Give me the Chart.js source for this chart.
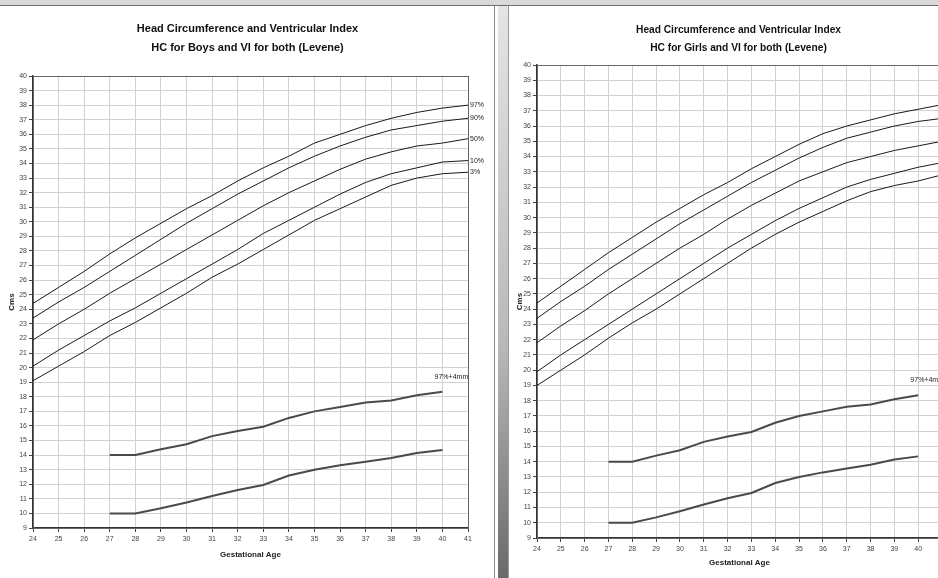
<!DOCTYPE html>
<html>
<head>
<meta charset="utf-8">
<script src="https://cdn.jsdelivr.net/npm/chart.js@4.4.1/dist/chart.umd.min.js"></script>
<style>
  body { margin: 0; width: 938px; height: 578px; overflow: hidden; background: #fff; position: relative; }
  canvas { position: absolute; top: 0; }
  #boysChart { left: 0; }
  #girlsChart { left: 508px; }
  #topbar { position: absolute; left: 0; top: 0; width: 938px; height: 5px; background: #d9d9d9; border-bottom: 1px solid #6e6e6e; z-index: 2; }
  #line { position: absolute; left: 494px; top: 6px; width: 1px; height: 572px; background: #8a8a8a; }
  #sep { position: absolute; left: 498px; top: 6px; width: 10px; height: 572px; background: linear-gradient(#e4e4e4, #b8b8b8 60%, #6a6a6a); }
  #rborder { position: absolute; left: 508px; top: 6px; width: 1px; height: 572px; background: #9a9a9a; }
</style>
</head>
<body>
<canvas id="boysChart" width="495" height="578"></canvas>
<canvas id="girlsChart" width="461" height="578"></canvas>
<div id="topbar"></div>
<div id="line"></div>
<div id="sep"></div>
<div id="rborder"></div>
<script>
// gestational age (weeks)
const weeks = [24, 25, 26, 27, 28, 29, 30, 31, 32, 33, 34, 35, 36, 37, 38, 39, 40, 41];
const viWeeks = [27, 28, 29, 30, 31, 32, 33, 34, 35, 36, 37, 38, 39, 40];

const pctLabels = ['97%', '90%', '50%', '10%', '3%'];

// HC for boys (cm)
const boys97 = [24.4, 25.5, 26.6, 27.8, 28.9, 29.9, 30.9, 31.8, 32.8, 33.7, 34.5, 35.4, 36.0, 36.6, 37.1, 37.5, 37.8, 38.0];
const boys90 = [23.4, 24.5, 25.5, 26.6, 27.7, 28.8, 29.9, 30.9, 31.9, 32.8, 33.7, 34.5, 35.2, 35.8, 36.3, 36.6, 36.9, 37.1];
const boys50 = [21.9, 23.0, 24.0, 25.1, 26.1, 27.1, 28.1, 29.1, 30.1, 31.1, 32.0, 32.8, 33.6, 34.3, 34.8, 35.2, 35.4, 35.7];
const boys10 = [20.1, 21.2, 22.2, 23.2, 24.1, 25.1, 26.1, 27.1, 28.1, 29.2, 30.1, 31.0, 31.9, 32.7, 33.3, 33.7, 34.1, 34.2];
const boys3  = [19.1, 20.1, 21.1, 22.2, 23.1, 24.1, 25.1, 26.2, 27.1, 28.1, 29.1, 30.1, 30.9, 31.7, 32.5, 33.0, 33.3, 33.4];

// HC for girls (cm)
const girls97 = [24.4, 25.5, 26.6, 27.7, 28.7, 29.7, 30.6, 31.5, 32.3, 33.2, 34.0, 34.8, 35.5, 36.0, 36.4, 36.8, 37.1, 37.4];
const girls90 = [23.4, 24.5, 25.5, 26.6, 27.6, 28.6, 29.6, 30.5, 31.4, 32.3, 33.1, 33.9, 34.6, 35.2, 35.6, 36.0, 36.3, 36.5];
const girls50 = [21.8, 22.9, 23.9, 25.0, 26.0, 27.0, 28.0, 28.9, 29.9, 30.8, 31.6, 32.4, 33.0, 33.6, 34.0, 34.4, 34.7, 35.0];
const girls10 = [19.9, 21.0, 22.0, 23.0, 24.0, 25.0, 26.0, 27.0, 28.0, 28.9, 29.8, 30.6, 31.3, 32.0, 32.5, 32.9, 33.3, 33.6];
const girls3  = [19.0, 20.0, 21.0, 22.1, 23.1, 24.0, 25.0, 26.0, 27.0, 28.0, 28.9, 29.7, 30.4, 31.1, 31.7, 32.1, 32.4, 32.8];

// ventricular index (both)
const viUpper = [14.0, 14.0, 14.4, 14.75, 15.3, 15.65, 15.95, 16.55, 17.0, 17.3, 17.6, 17.75, 18.1, 18.35];
const viLower = [10.0, 10.0, 10.35, 10.75, 11.2, 11.6, 11.95, 12.6, 13.0, 13.3, 13.55, 13.8, 14.15, 14.35];

const pts = (xs, ys) => xs.map((x, i) => ({ x: x, y: ys[i] }));

// titles, plot frame and end labels
const decor = {
  id: 'decor',
  beforeDatasetsDraw(chart) {
    const { ctx, chartArea: a } = chart;
    ctx.save();
    ctx.strokeStyle = '#666';
    ctx.lineWidth = 1;
    ctx.strokeRect(a.left + 0.5, a.top + 0.5, a.right - a.left, a.bottom - a.top);
    ctx.restore();
  },
  afterDatasetsDraw(chart, args, opts) {
    const { ctx } = chart;
    ctx.save();
    ctx.fillStyle = '#111';
    ctx.textAlign = 'center';
    ctx.textBaseline = 'middle';
    ctx.font = 'bold ' + opts.size + 'px "Liberation Sans", Arial, sans-serif';
    ctx.fillText('Head Circumference and Ventricular Index', chart.width / 2, opts.t1);
    ctx.fillText(opts.sub, chart.width / 2, opts.t2);

    ctx.font = '7px "Liberation Sans", Arial, sans-serif';
    ctx.fillStyle = '#222';
    chart.data.datasets.forEach((ds, i) => {
      if (!ds.endLabel) return;
      const meta = chart.getDatasetMeta(i);
      const p = meta.data[meta.data.length - 1];
      if (ds.endLabel === '97%+4mm') {
        ctx.textAlign = 'center';
        ctx.fillText(ds.endLabel, p.x + 9, p.y - 15);
      } else {
        ctx.textAlign = 'left';
        ctx.fillText(ds.endLabel, p.x + 2, p.y);
      }
    });
    ctx.restore();
  }
};

function makeChart(id, hc, sub, g) {
  const hcSets = hc.map((arr, i) => ({
    data: pts(weeks, arr),
    endLabel: pctLabels[i],
    borderColor: '#1a1a1a',
    borderWidth: 1,
    pointRadius: 0,
    tension: 0
  }));
  const viSets = [viUpper, viLower].map((arr, i) => ({
    data: pts(viWeeks, arr),
    endLabel: i === 0 ? '97%+4mm' : '',
    borderColor: '#4a4a4a',
    borderWidth: 2,
    pointRadius: 0,
    tension: 0
  }));

  const tickFont = { family: '"Liberation Sans", Arial, sans-serif', size: 7 };
  const titleFont = { family: '"Liberation Sans", Arial, sans-serif', size: 8, weight: 'bold' };

  return new Chart(document.getElementById(id), {
    type: 'line',
    data: { datasets: hcSets.concat(viSets) },
    options: {
      responsive: false,
      animation: false,
      layout: {
        padding: { left: 0, top: g.top, right: g.w - g.right, bottom: g.pb }
      },
      plugins: {
        legend: { display: false },
        tooltip: { enabled: false },
        decor: { sub: sub, t1: g.t1, t2: g.t2, size: g.fs }
      },
      scales: {
        x: {
          type: 'linear',
          min: 24,
          max: 41,
          afterFit: (s) => { s.height = g.h - g.bottom - g.pb; },
          grid: { color: '#d2d2d2', tickLength: 4, tickColor: '#444' },
          border: { color: '#333', width: 1.5 },
          ticks: { stepSize: 1, autoSkip: false, maxRotation: 0, padding: 3, color: '#444', font: tickFont },
          title: { display: true, text: 'Gestational Age', color: '#222', font: titleFont, padding: { bottom: 0 } }
        },
        y: {
          min: 9,
          max: 40,
          afterFit: (s) => { s.width = g.left; },
          grid: { color: '#d2d2d2', tickLength: 4, tickColor: '#444' },
          border: { color: '#333', width: 1.5 },
          ticks: { stepSize: 1, autoSkip: false, padding: 2, color: '#444', font: tickFont },
          title: { display: true, text: 'Cms', color: '#222', font: titleFont, padding: { top: 7 } }
        }
      }
    },
    plugins: [decor]
  });
}

makeChart('boysChart', [boys97, boys90, boys50, boys10, boys3],
  'HC for Boys and VI for both (Levene)',
  { w: 495, h: 578, left: 33, right: 468, top: 76, bottom: 528, pb: 18, t1: 29, t2: 48, fs: 11 });

makeChart('girlsChart', [girls97, girls90, girls50, girls10, girls3],
  'HC for Girls and VI for both (Levene)',
  { w: 461, h: 578, left: 29, right: 434, top: 65, bottom: 538, pb: 10, t1: 30, t2: 48, fs: 10.2 });
</script>
</body>
</html>
